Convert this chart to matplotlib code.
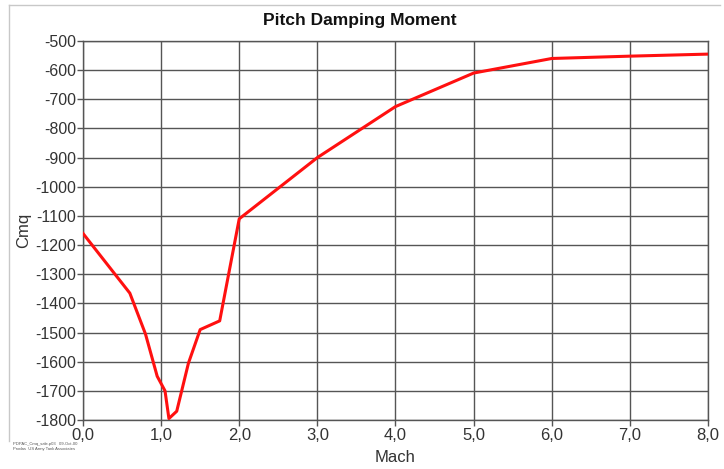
#!/usr/bin/env python3
"""Pitch damping moment coefficient Cmq versus Mach number."""

import matplotlib

matplotlib.use("Agg")
import matplotlib.pyplot as plt
from matplotlib.lines import Line2D
from matplotlib.ticker import FuncFormatter

plt.rcParams.update({"font.family": ["Liberation Sans", "DejaVu Sans"], "font.size": 11,
                     "axes.unicode_minus": False})

mach = [0.0, 0.6, 0.8, 0.95, 1.05, 1.1, 1.2, 1.35, 1.5, 1.75, 2.0, 3.0, 4.0, 5.0, 6.0, 7.0, 8.0]
cmq = [-1160, -1365, -1505, -1650, -1700, -1795, -1770, -1605, -1490, -1460,
       -1110, -900, -725, -610, -560, -552, -545]

x_ticks = [0, 1, 2, 3, 4, 5, 6, 7, 8]
y_ticks = list(range(-1800, -499, 100))

fig = plt.figure(figsize=(7.24, 4.69), dpi=100)
ax = fig.add_axes([0.1146, 0.1045, 0.8633, 0.8081])

ax.plot(mach, cmq, color="#ff1010", linewidth=2.2, solid_joinstyle="round", zorder=3)

ax.set_xlim(0, 8)
ax.set_ylim(-1800, -500)
ax.set_xticks(x_ticks)
ax.set_yticks(y_ticks)
ax.xaxis.set_major_formatter(FuncFormatter(lambda v, _: f"{v:.1f}".replace(".", ",")))
ax.grid(True, color="#555555", linewidth=1.0)
ax.set_axisbelow(True)
for s in ax.spines.values():
    s.set_color("#555555")
    s.set_linewidth(1.0)
ax.tick_params(direction="out", length=4, width=1.0, color="#555555",
               labelsize=11.5, labelcolor="#333333", pad=1)
ax.tick_params(axis="x", labelsize=12, pad=2)

ax.set_xlabel("Mach", fontsize=12, color="#333333", labelpad=5)
ax.set_ylabel("Cmq", fontsize=12, color="#333333")
ax.yaxis.set_label_coords(-0.083, 0.5)
fig.text(0.497, 0.957, "Pitch Damping Moment", ha="center", va="center",
         fontsize=12.5, fontweight="bold", color="#111111")

# light frame along the left and top edge
fig.add_artist(Line2D([0.0124, 0.0124], [0.06, 0.989], transform=fig.transFigure,
                      color="#c8c8c8", linewidth=1.0))
fig.add_artist(Line2D([0.0124, 0.995], [0.989, 0.989], transform=fig.transFigure,
                      color="#c8c8c8", linewidth=1.0))

fig.text(0.018, 0.052, "PDPAC_Cmq_sale.p03   09-Oct-00", fontsize=3, color="#555555")
fig.text(0.018, 0.040, "Prodas  US Army Tank Associates", fontsize=3, color="#555555")

fig.savefig("out.png", dpi=100)
